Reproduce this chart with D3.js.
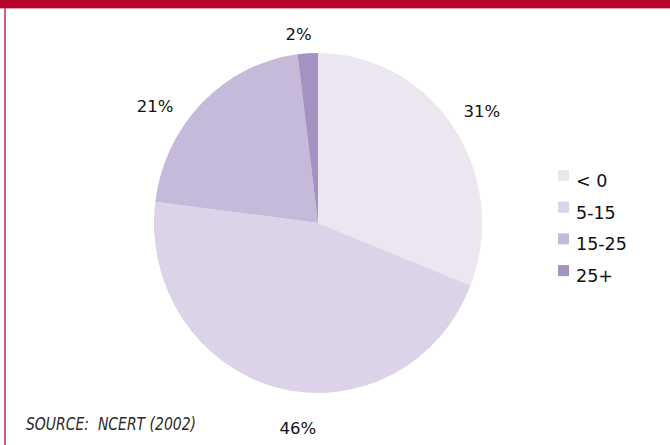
<!DOCTYPE html>
<html>
<head>
<meta charset="utf-8">
<script src="https://cdn.jsdelivr.net/npm/d3@7"></script>
<style>
  html, body { margin: 0; padding: 0; background: #fff; }
  svg { display: block; }
</style>
</head>
<body>
<svg id="chart" width="670" height="445"></svg>
<script>
// Share of area by class (percent)
const categories = ["< 0", "5-15", "15-25", "25+"];
const shares = [31, 46, 21, 2];
const colors = ["#ece6f0", "#dcd3e9", "#c6badb", "#a492c3"];
const sourceNote = "SOURCE:  NCERT (2002)";

const W = 670, H = 445;
const svg = d3.select("#chart");

// frame: red band on top, thin rule down the left side
svg.append("rect").attr("x", 0).attr("y", 0).attr("width", W).attr("height", 8).attr("fill", "#b8062a");
svg.append("rect").attr("x", 0).attr("y", 8).attr("width", W).attr("height", 1).attr("fill", "#e2a0ad");
svg.append("rect").attr("x", 4).attr("y", 8).attr("width", 2).attr("height", H - 8).attr("fill", "#cf5f78");

const cx = 318, cy = 223, rx = 164, ry = 170;
const sy = ry / rx;

const pie = d3.pie().sort(null).value(d => d)(shares);
const arc = d3.arc().innerRadius(0).outerRadius(rx);

const g = svg.append("g").attr("transform", `translate(${cx},${cy}) scale(1,${sy})`);
g.selectAll("path").data(pie).join("path")
  .attr("d", arc)
  .attr("fill", (d, i) => colors[i]);

// percentage labels just outside the rim, shifted a little off the centroid ray
const labelArc = d3.arc().innerRadius(198).outerRadius(198);
const nudge = [[0, 4], [29, 7], [-23, 29], [-7, 16]];
svg.append("g").selectAll("text").data(pie).join("text")
  .attr("x", (d, i) => cx + labelArc.centroid(d)[0] + nudge[i][0])
  .attr("y", (d, i) => cy + labelArc.centroid(d)[1] * sy + nudge[i][1])
  .attr("text-anchor", "middle")
  .attr("dominant-baseline", "central")
  .attr("font-family", "DejaVu Sans, sans-serif")
  .attr("font-size", 16.5)
  .attr("fill", "#111")
  .text(d => d.value + "%");

// legend
const leg = svg.append("g").attr("transform", "translate(558,170)");
const item = leg.selectAll("g").data(categories).join("g")
  .attr("transform", (d, i) => `translate(0,${i * 31.7})`);
item.append("rect").attr("width", 11).attr("height", 11).attr("fill", (d, i) => colors[i]);
item.append("text")
  .attr("x", 18).attr("y", 17)
  .attr("font-family", "DejaVu Sans, sans-serif")
  .attr("font-size", 17.5)
  .attr("fill", "#111")
  .text(d => d);

// source note, squeezed to a narrow italic
svg.append("text")
  .attr("x", 26).attr("y", 430)
  .attr("xml:space", "preserve")
  .style("white-space", "pre")
  .attr("font-family", "DejaVu Sans, sans-serif")
  .attr("font-style", "italic")
  .attr("font-size", 18.5)
  .attr("textLength", 170)
  .attr("lengthAdjust", "spacingAndGlyphs")
  .attr("fill", "#2a2a2a")
  .text(sourceNote);
</script>
</body>
</html>
